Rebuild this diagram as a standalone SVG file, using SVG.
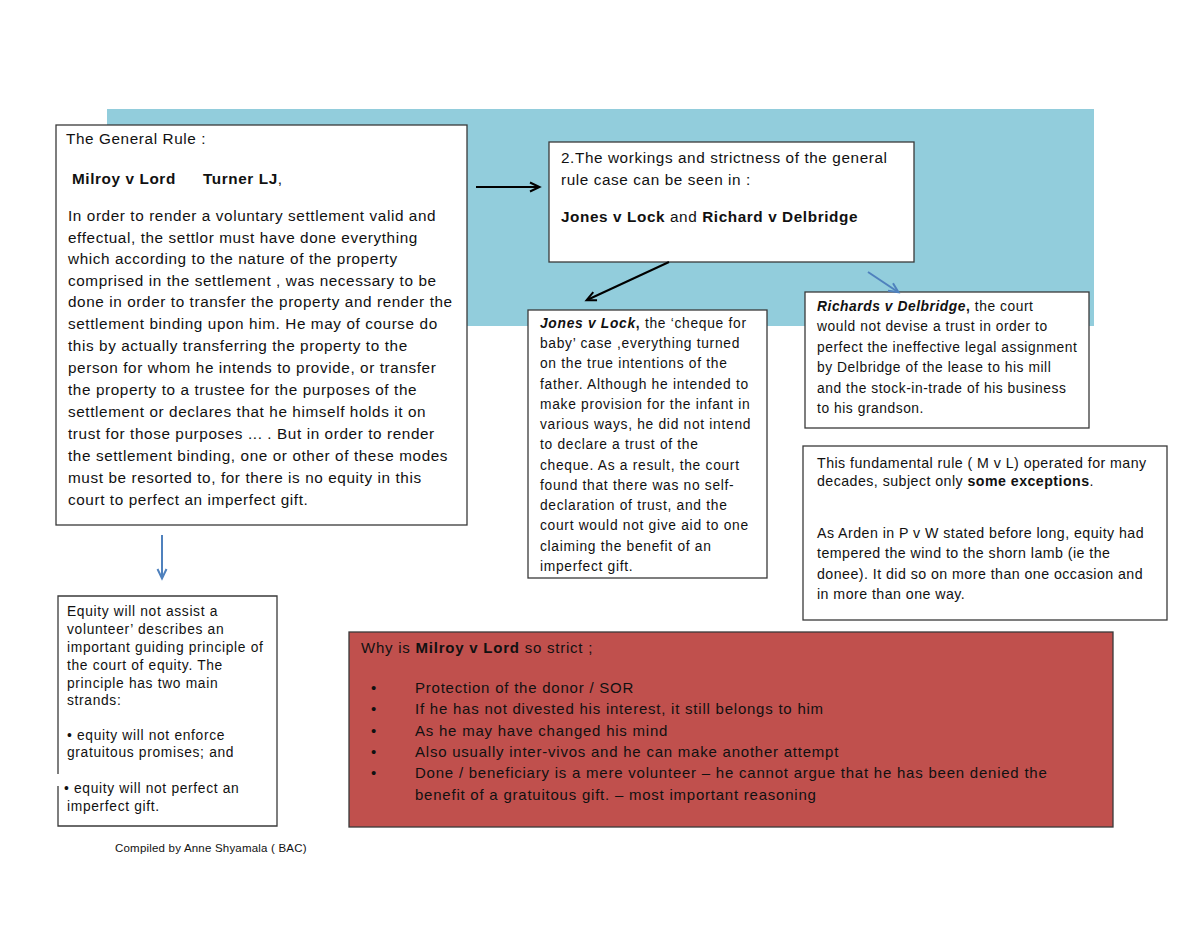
<svg xmlns="http://www.w3.org/2000/svg" width="1200" height="927" viewBox="0 0 1200 927">
<style>
.box{fill:#fff;stroke:#3a3a3a;stroke-width:1.3}
text{font-family:"Liberation Sans",Arial,sans-serif;fill:#111}
.t15{font-size:15.3px;letter-spacing:0.6px}
.tj{font-size:13.8px;letter-spacing:0.7px}
.tr{font-size:13.8px;letter-spacing:0.55px}
.tf{font-size:14.2px;letter-spacing:0.46px}
.te{font-size:13.8px;letter-spacing:0.67px}
.t14{font-size:15px;letter-spacing:0.77px}
.b{font-weight:bold}
.bi{font-weight:bold;font-style:italic}
.blk{stroke:#000;stroke-width:2;fill:none}
.blu{stroke:#4f81bd;stroke-width:2;fill:none}
</style>
<defs>
<marker id="ak" viewBox="0 0 10 10" refX="9" refY="5" markerWidth="10" markerHeight="10" orient="auto" markerUnits="userSpaceOnUse" overflow="visible">
<path d="M0,0.5 L9.5,5 L0,9.5" fill="none" stroke="#000" stroke-width="2"/>
</marker>
<marker id="ab" viewBox="0 0 10 10" refX="9" refY="5" markerWidth="10" markerHeight="10" orient="auto" markerUnits="userSpaceOnUse" overflow="visible">
<path d="M0,0.5 L9.5,5 L0,9.5" fill="none" stroke="#4f81bd" stroke-width="2"/>
</marker>
</defs>
<rect width="1200" height="927" fill="#fff"/>
<rect id="background" x="107" y="109" width="987" height="217" fill="#92cddc"/>

<g id="general-rule">
<rect class="box" x="56" y="125" width="411" height="400"/>
<text class="t15" x="66" y="144">The General Rule :</text>
<text class="t15 b" x="72" y="184">Milroy v Lord<tspan x="203">Turner LJ</tspan><tspan font-weight="normal">,</tspan></text>
<text class="t15" x="68">
<tspan x="68" y="221">In order to render a voluntary settlement valid and</tspan>
<tspan x="68" y="243">effectual, the settlor must have done everything</tspan>
<tspan x="68" y="264">which according to the nature of the property</tspan>
<tspan x="68" y="286">comprised in the settlement , was necessary to be</tspan>
<tspan x="68" y="307">done in order to transfer the property and render the</tspan>
<tspan x="68" y="329">settlement binding upon him. He may of course do</tspan>
<tspan x="68" y="351">this by actually transferring the property to the</tspan>
<tspan x="68" y="373">person for whom he intends to provide, or transfer</tspan>
<tspan x="68" y="395">the property to a trustee for the purposes of the</tspan>
<tspan x="68" y="417">settlement or declares that he himself holds it on</tspan>
<tspan x="68" y="439">trust for those purposes ... . But in order to render</tspan>
<tspan x="68" y="461">the settlement binding, one or other of these modes</tspan>
<tspan x="68" y="483">must be resorted to, for there is no equity in this</tspan>
<tspan x="68" y="505">court to perfect an imperfect gift.</tspan>
</text>
</g>

<g id="workings">
<rect class="box" x="549" y="142" width="365" height="120"/>
<text class="t15" x="561" y="163">2.The workings and strictness of the general</text>
<text class="t15" x="561" y="185">rule case can be seen in :</text>
<text class="t15" x="561" y="222"><tspan class="b">Jones v Lock</tspan> and <tspan class="b">Richard v Delbridge</tspan></text>
</g>

<g id="jones-v-lock">
<rect class="box" x="528" y="310" width="239" height="268"/>
<text class="tj" x="540">
<tspan x="540" y="328"><tspan class="bi">Jones v Lock</tspan><tspan class="b">,</tspan> the ‘cheque for</tspan>
<tspan x="540" y="348">baby’ case ,everything turned</tspan>
<tspan x="540" y="368">on the true intentions of the</tspan>
<tspan x="540" y="389">father. Although he intended to</tspan>
<tspan x="540" y="409">make provision for the infant in</tspan>
<tspan x="540" y="429">various ways, he did not intend</tspan>
<tspan x="540" y="449">to declare a trust of the</tspan>
<tspan x="540" y="470">cheque. As a result, the court</tspan>
<tspan x="540" y="490">found that there was no self-</tspan>
<tspan x="540" y="510">declaration of trust, and the</tspan>
<tspan x="540" y="530">court would not give aid to one</tspan>
<tspan x="540" y="551">claiming the benefit of an</tspan>
<tspan x="540" y="571">imperfect gift.</tspan>
</text>
</g>

<g id="richards-v-delbridge">
<rect class="box" x="805" y="292" width="284" height="136"/>
<text class="tr" x="817">
<tspan x="817" y="311"><tspan class="bi">Richards v Delbridge</tspan><tspan class="b">,</tspan> the court</tspan>
<tspan x="817" y="331">would not devise a trust in order to</tspan>
<tspan x="817" y="352">perfect the ineffective legal assignment</tspan>
<tspan x="817" y="372">by Delbridge of the lease to his mill</tspan>
<tspan x="817" y="393">and the stock-in-trade of his business</tspan>
<tspan x="817" y="413">to his grandson.</tspan>
</text>
</g>

<g id="fundamental-rule">
<rect class="box" x="803" y="446" width="364" height="174"/>
<text class="tf" x="817">
<tspan x="817" y="468">This fundamental rule ( M v L) operated for many</tspan>
<tspan x="817" y="486">decades, subject only <tspan class="b">some exceptions</tspan>.</tspan>
<tspan x="817" y="538">As Arden in P v W stated before long, equity had</tspan>
<tspan x="817" y="558">tempered the wind to the shorn lamb (ie the</tspan>
<tspan x="817" y="579">donee). It did so on more than one occasion and</tspan>
<tspan x="817" y="599">in more than one way.</tspan>
</text>
</g>

<g id="equity-volunteer">
<path d="M58,774 V596 H277 V826 H58 V786" fill="#fff" stroke="#3a3a3a" stroke-width="1.3"/>
<text class="te" x="67">
<tspan x="67" y="616">Equity will not assist a</tspan>
<tspan x="67" y="634">volunteer’ describes an</tspan>
<tspan x="67" y="652">important guiding principle of</tspan>
<tspan x="67" y="670">the court of equity. The</tspan>
<tspan x="67" y="688">principle has two main</tspan>
<tspan x="67" y="705">strands:</tspan>
<tspan x="67" y="740">• equity will not enforce</tspan>
<tspan x="67" y="757">gratuitous promises; and</tspan>
<tspan x="64" y="793">• equity will not perfect an</tspan>
<tspan x="67" y="811">imperfect gift.</tspan>
</text>
</g>

<g id="why-strict">
<rect x="349" y="632" width="764" height="195" fill="#c0504d" stroke="#3a3a3a" stroke-width="1.3"/>
<text class="t14" x="361" y="653">Why is <tspan class="b">Milroy v Lord</tspan> so strict ;</text>
<g class="t14">
<text x="371" y="693">•</text><text x="415" y="693">Protection of the donor / SOR</text>
<text x="371" y="714">•</text><text x="415" y="714">If he has not divested his interest, it still belongs to him</text>
<text x="371" y="736">•</text><text x="415" y="736">As he may have changed his mind</text>
<text x="371" y="757">•</text><text x="415" y="757">Also usually inter-vivos and he can make another attempt</text>
<text x="371" y="778">•</text><text x="415" y="778">Done / beneficiary is a mere volunteer – he cannot argue that he has been denied the</text>
<text x="415" y="800">benefit of a gratuitous gift. – most important reasoning</text>
</g>
</g>

<g id="footer">
<text x="115" y="852" font-size="11.5px" letter-spacing="0.2px">Compiled by Anne Shyamala ( BAC)</text>
</g>

<g id="connectors">
<line class="blk" x1="476" y1="187" x2="539" y2="187" marker-end="url(#ak)"/>
<line class="blk" x1="669" y1="262" x2="587" y2="300" marker-end="url(#ak)"/>
<line class="blu" x1="868" y1="272" x2="898" y2="292" marker-end="url(#ab)"/>
<line class="blu" x1="162" y1="535" x2="162" y2="578" marker-end="url(#ab)"/>
</g>
</svg>
